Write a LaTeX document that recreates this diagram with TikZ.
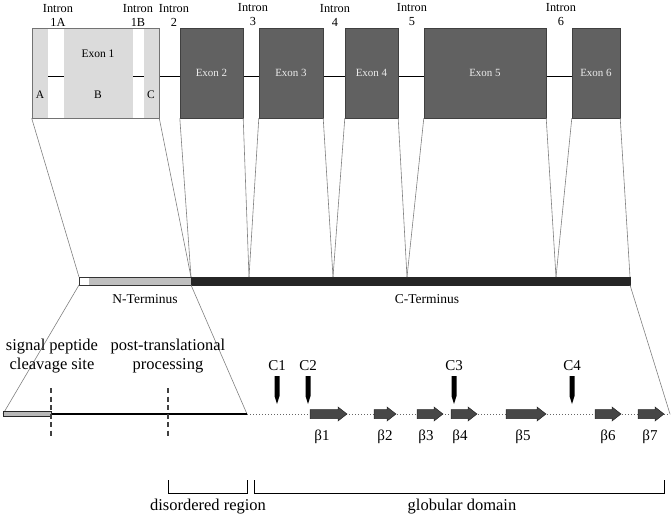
\documentclass[tikz,border=0pt]{standalone}
\usepackage{fontspec}
\setmainfont{Liberation Serif}
\begin{document}
\begin{tikzpicture}[x=1pt,y=-1pt,
  lbl/.style={font=\fontsize{12.3}{14}\selectfont, align=center, inner sep=0pt},
  small/.style={font=\fontsize{11.5}{13}\selectfont, inner sep=0pt},
  exonbox/.style={draw=black!75, fill=black!62, text=black!8, inner sep=0pt, font=\fontsize{11}{12}\selectfont},
  thinline/.style={draw=black!50, line width=0.6pt},
  big/.style={font=\fontsize{16.5}{19}\selectfont, align=center, inner sep=0pt},
  mid/.style={font=\fontsize{15}{17}\selectfont, inner sep=0pt},
  bstrand/.style={fill=black!72, draw=black!85, line width=0.5pt},
  pointer/.style={fill=black},
  vdash/.style={black!75, dash pattern=on 5pt off 3.5pt, line width=1.3pt}]
\useasboundingbox (0,0) rectangle (671,519);
% intron labels
\node[lbl] (i1a) at (58,15) {Intron\\1A};
\node[lbl] (i1b) at (138,15) {Intron\\1B};
\node[lbl] (i2) at (174,15) {Intron\\2};
\node[lbl] (i3) at (253,15) {Intron\\3};
\node[lbl] (i4) at (335,15) {Intron\\4};
\node[lbl] (i5) at (412,15) {Intron\\5};
\node[lbl] (i6) at (561,15) {Intron\\6};
% intron line
\draw[line width=0.9pt] (159,76) -- (620,76);
% exon 1
\fill[black!14] (32,28) rectangle (48,118);
\fill[black!14] (64,28) rectangle (133,118);
\fill[black!14] (144,28) rectangle (159,118);
\draw[line width=0.9pt] (48,76) -- (64,76) (133,76) -- (144,76);
\node[draw=black!55, line width=0.6pt, minimum width=127pt, minimum height=90pt, inner sep=0pt] (e1) at (95.5,73) {};
\node[small] (e1t) at (98,54) {Exon 1};
\node[small] (ea) at (40,95) {A};
\node[small] (eb) at (98,95) {B};
\node[small] (ec) at (151,95) {C};
% dark exons
\node[exonbox, minimum width=63pt, minimum height=90pt] (e2) at (211.5,73) {Exon 2};
\node[exonbox, minimum width=64pt, minimum height=90pt] (e3) at (291,73) {Exon 3};
\node[exonbox, minimum width=53pt, minimum height=90pt] (e4) at (371.5,73) {Exon 4};
\node[exonbox, minimum width=122pt, minimum height=90pt] (e5) at (485,73) {Exon 5};
\node[exonbox, minimum width=48pt, minimum height=90pt] (e6) at (596,73) {Exon 6};
% protein bar
\fill[white] (79,277) rectangle (89,285);
\fill[black!25] (89,277) rectangle (191,285);
\fill[black!85] (191,277) rectangle (630,285);
\draw[black!80, line width=0.6pt] (79,277) rectangle (191,285);
\draw[black!85, line width=0.6pt] (191,277) rectangle (630,285);
% mapping lines
\draw[thinline] (e1.south west) -- (79,277);
\draw[thinline] (e1.south east) -- (191,277);
\draw[thinline] (e2.south west) -- (191,277);
\draw[thinline] (e2.south east) -- (249,277);
\draw[thinline] (e3.south west) -- (249,277);
\draw[thinline] (e3.south east) -- (333,277);
\draw[thinline] (e4.south west) -- (333,277);
\draw[thinline] (e4.south east) -- (407,277);
\draw[thinline] (e5.south west) -- (407,277);
\draw[thinline] (e5.south east) -- (556,277);
\draw[thinline] (e6.south west) -- (556,277);
\draw[thinline] (e6.south east) -- (630,277);
\node[font=\fontsize{13.5}{15}\selectfont, inner sep=0pt] (nt) at (145,299) {N-Terminus};
\node[font=\fontsize{13.5}{15}\selectfont, inner sep=0pt] (ct) at (427,299) {C-Terminus};
% lower line
\coordinate (l0) at (3,414);
\coordinate (l1) at (247,414);
\coordinate (l2) at (670,414);
\draw[thinline] (79,285) -- (l0);
\draw[thinline] (191,285) -- (l1);
\draw[thinline] (630,285) -- (l2);
\draw[black!60, dotted, line width=1pt] (l1) -- (l2);
\draw[line width=1.4pt] (51,414) -- (l1);
\node[draw=black!85, fill=black!28, line width=0.7pt, minimum width=48pt, minimum height=5pt, inner sep=0pt] (sp) at (27,414) {};
\draw[vdash] (51,388) -- (51,437);
\draw[vdash] (168,388) -- (168,437);
\node[big] (sig) at (52,356) {signal peptide\\cleavage site};
\node[big] (ptp) at (168,356) {post-translational\\processing};
% cysteines
\foreach \x/\n in {277/C1, 308/C2, 454/C3, 572/C4}{
  \node[mid] (\n) at (\x,366) {\n};
  \fill[pointer] (\x-2.5,376) -- (\x+2.5,376) -- (\x+2.5,396) -- (\x,404) -- (\x-2.5,396) -- cycle;
}
% beta strands
\foreach \a/\b in {310/347, 374/396, 417/443, 451/477, 506/546, 595/621, 638/664}{
  \draw[bstrand] (\a,409.5) -- (\b-9,409.5) -- (\b-9,407) -- (\b,414) -- (\b-9,421) -- (\b-9,418.5) -- (\a,418.5) -- cycle;
}
\foreach \x/\n in {322/1, 385/2, 426/3, 460/4, 523/5, 608/6, 650/7}{
  \node[mid] (b\n) at (\x,437) {β\n};
}
% brackets
\draw[line width=0.9pt] (168,480) -- (168,493) -- (247,493) -- (247,480);
\draw[line width=0.9pt] (254,480) -- (254,493) -- (664,493) -- (664,480);
\node[big] (dis) at (208,507) {disordered region};
\node[big] (glob) at (462,507) {globular domain};
\end{tikzpicture}
\end{document}
